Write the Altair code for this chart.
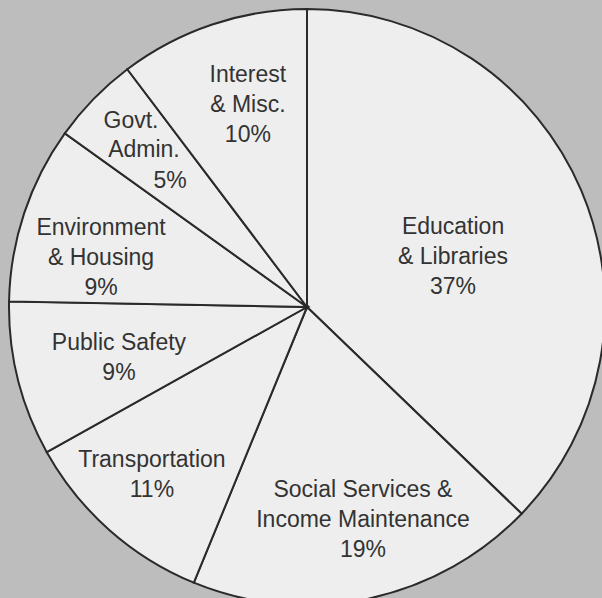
import math
import altair as alt
import pandas as pd

# ---- data ----
categories = [
    "Education & Libraries",
    "Social Services & Income Maintenance",
    "Transportation",
    "Public Safety",
    "Environment & Housing",
    "Govt. Admin.",
    "Interest & Misc.",
]
shares = [37.2, 19.0, 10.7, 8.4, 9.6, 4.8, 10.3]  # slice sizes (percent of circle)
pct_labels = ["37%", "19%", "11%", "9%", "9%", "5%", "10%"]

# label texts (one entry per text block)
label_texts = [
    "Education\n& Libraries\n37%",
    "Social Services &\nIncome Maintenance\n19%",
    "Transportation\n11%",
    "Public Safety\n9%",
    "Environment\n& Housing\n9%",
    "Govt.",
    "Admin.",
    "5%",
    "Interest\n& Misc.\n10%",
]
# layout: polar placement of each block's first line (degrees clockwise from 12 o'clock, pixels)
label_angle_deg = [61.3, 163.0, 225.4, 259.2, 291.0, 316.6, 313.9, 312.6, 345.7]
label_radius_px = [166.5, 191.4, 217.8, 191.4, 220.6, 256.1, 226.3, 186.1, 239.4]

CX, CY, R = 307, 307, 298

slices = pd.DataFrame({
    "category": categories,
    "share": shares,
    "pct": pct_labels,
    "order": list(range(len(categories))),
})

labels = pd.DataFrame({
    "text": label_texts,
    "theta_rad": [math.radians(a) for a in label_angle_deg],
    "r": label_radius_px,
})

pie = alt.Chart(slices).mark_arc(
    outerRadius=R,
    fill="#eeeeee",
    stroke="#2a2a2a",
    strokeWidth=2,
).encode(
    theta=alt.Theta("share:Q", stack=True),
    order=alt.Order("order:Q"),
    x=alt.value(CX),
    y=alt.value(CY),
    tooltip=["category:N", "pct:N"],
)

text = alt.Chart(labels).mark_text(
    font="Liberation Sans",
    fontSize=23,
    color="#333333",
    lineBreak="\n",
    lineHeight=30,
    align="center",
    baseline="middle",
).encode(
    theta=alt.Theta("theta_rad:Q", scale=None, stack=None),
    radius=alt.Radius("r:Q", scale=None),
    x=alt.value(CX),
    y=alt.value(CY),
    text="text:N",
)

chart = alt.layer(pie, text).properties(
    width=602,
    height=598,
    background="#bdbdbd",
    padding=0,
    autosize=alt.AutoSizeParams(type="none"),
).configure_view(stroke=None)

chart.save("out.html", embed_options={"renderer": "svg", "actions": False})
